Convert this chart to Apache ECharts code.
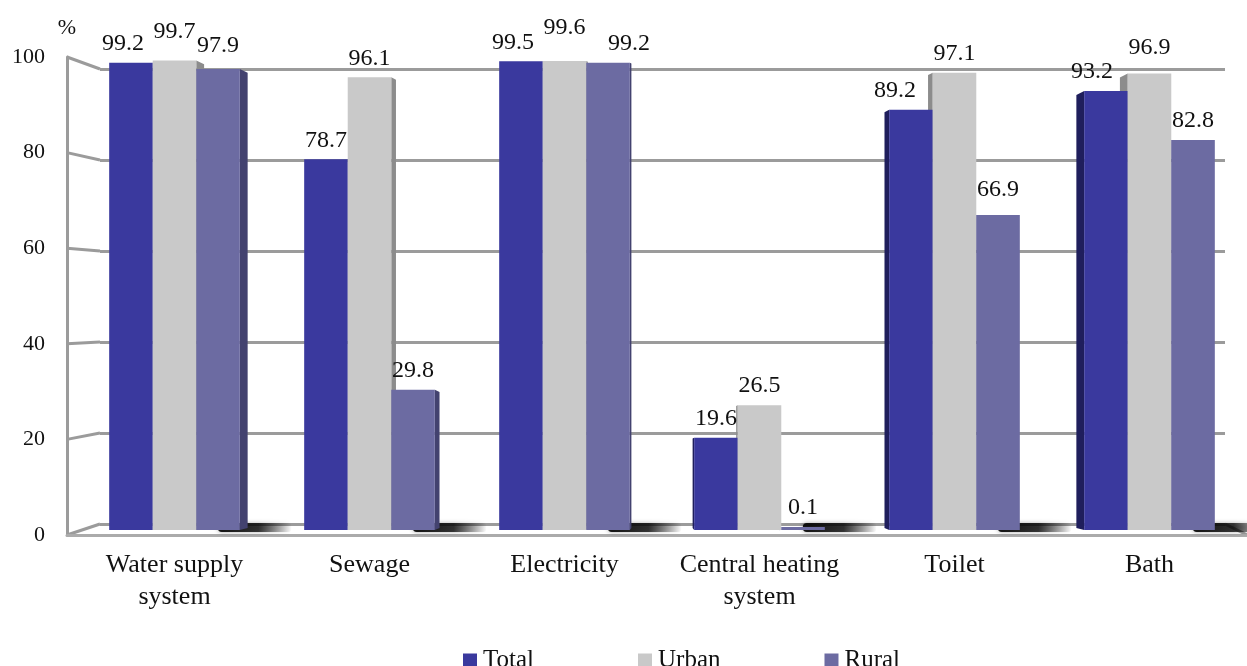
<!DOCTYPE html>
<html>
<head>
<meta charset="utf-8">
<script src="https://cdn.jsdelivr.net/npm/echarts@6/dist/echarts.min.js"></script>
<style>
  html, body { margin: 0; padding: 0; background: #ffffff; }
  #chart { width: 1247px; height: 666px; }
</style>
</head>
<body>
<div id="chart"></div>
<script>
// Housing amenities, share of dwellings (%)
const categories = ['Water supply\nsystem', 'Sewage', 'Electricity', 'Central heating\nsystem', 'Toilet', 'Bath'];
const totalValues = [99.2, 78.7, 99.5, 19.6, 89.2, 93.2];
const urbanValues = [99.7, 96.1, 99.6, 26.5, 97.1, 96.9];
const ruralValues = [97.9, 29.8, 99.2, 0.1, 66.9, 82.8];
const seriesNames = ['Total', 'Urban', 'Rural'];
const yTicks = [0, 20, 40, 60, 80, 100];
const unitLabel = '%';

const FONT = "'Liberation Serif', 'Times New Roman', serif";
const COLORS = ['#3a399e', '#c9c9c9', '#6c6ba2'];
const SIDE_COLORS = ['#1f1e5c', '#8c8c8c', '#43426f'];
const GRID_GRAY = '#9b9b9b';
const GROUP_SHARE = 0.67;   // part of each category band filled by its three bars

// Three stacked planes give the box a little depth:
// back wall (grid lines), bar plane, and front edge (y labels, floor edge).
const BACK = { left: 100, right: 22, top: 69, bottom: 142 };
const BARS = { left: 77, width: 1171, top: 59, bottom: 136 };
const WALL = { left: 67, right: 0, top: 57, bottom: 131 };

// Small per-label nudges where neighbouring value labels would collide
const labelNudge = {
  Total: { 0: [-8, 0], 2: [-8, 0], 4: [-16, 0], 5: [-14, 0] },
  Urban: { 0: [0, -10], 2: [0, -14], 5: [0, -7] },
  Rural: { 0: [0, -4], 2: [21, 0], 4: [0, -6] }
};

const yMin = yTicks[0];
const yMax = yTicks[yTicks.length - 1];
const yStep = yTicks[1] - yTicks[0];
const seriesValues = [totalValues, urbanValues, ruralValues];

function barData(name, values) {
  return values.map((v, i) => {
    const nudge = (labelNudge[name] || {})[i];
    return nudge ? { value: v, label: { offset: nudge } } : v;
  });
}

const valueLabel = {
  show: true,
  position: 'top',
  distance: 7,
  color: '#111',
  fontFamily: FONT,
  fontSize: 24
};

// side faces of the bars, leaning away from the middle of the plot
const sideFaceData = [];
seriesValues.forEach((vals, k) => vals.forEach((v, i) => sideFaceData.push([i, k, v])));

const chart = echarts.init(document.getElementById('chart'), null, { renderer: 'canvas' });
const plotMid = BACK.left + (chart.getWidth() - BACK.left - BACK.right) / 2;

const option = {
  backgroundColor: '#ffffff',
  animation: false,
  textStyle: { fontFamily: FONT },
  grid: [
    Object.assign({ containLabel: false }, BACK),
    Object.assign({ containLabel: false }, BARS),
    Object.assign({ containLabel: false }, WALL)
  ],
  xAxis: [
    { gridIndex: 0, type: 'category', data: categories, show: false },
    {
      gridIndex: 1, type: 'category', data: categories,
      axisLine: { show: false }, axisTick: { show: false },
      axisLabel: {
        margin: 19, color: '#111', fontFamily: FONT, fontSize: 26,
        lineHeight: 32, interval: 0
      }
    },
    {
      gridIndex: 2, type: 'category', data: categories,
      axisLine: { show: true, lineStyle: { color: '#ababab', width: 3 } },
      axisTick: { show: false }, axisLabel: { show: false }
    }
  ],
  yAxis: [
    {
      gridIndex: 0, type: 'value', min: yMin, max: yMax, interval: yStep,
      axisLine: { show: false }, axisTick: { show: false }, axisLabel: { show: false },
      splitLine: { show: true, lineStyle: { color: GRID_GRAY, width: 3 } }
    },
    {
      gridIndex: 1, type: 'value', min: yMin, max: yMax, interval: yStep,
      show: false, splitLine: { show: false }
    },
    {
      gridIndex: 2, type: 'value', min: yMin, max: yMax, interval: yStep,
      name: unitLabel, nameLocation: 'end', nameGap: 18,
      nameTextStyle: { color: '#111', fontFamily: FONT, fontSize: 22, align: 'center' },
      axisLine: { show: true, lineStyle: { color: GRID_GRAY, width: 3 } },
      axisTick: { show: false },
      splitLine: { show: false },
      axisLabel: { margin: 22, color: '#111', fontFamily: FONT, fontSize: 22 }
    }
  ],
  legend: {
    data: seriesNames,
    left: 463, top: 648, padding: 0,
    icon: 'rect', itemWidth: 14, itemHeight: 14, itemGap: 104,
    textStyle: { color: '#111', fontFamily: FONT, fontSize: 25, padding: [0, 0, 0, 1] }
  },
  series: [
    {
      // soft floor shadow cast to the right of each bar group
      type: 'custom',
      xAxisIndex: 1, yAxisIndex: 1,
      silent: true, z: 1,
      data: categories.map((c, i) => [i]),
      encode: { x: 0 },
      renderItem: function (params, api) {
        const base = api.coord([api.value(0), 0]);
        const band = api.size([1, 0])[0];
        const half = band * GROUP_SHARE / 2;
        const x0 = base[0] + half - 22;
        const x1 = base[0] + half + 52;
        return {
          type: 'rect',
          shape: { x: x0, y: base[1] - 7, width: x1 - x0, height: 9, r: 4 },
          style: {
            fill: new echarts.graphic.LinearGradient(0, 0, 1, 0, [
              { offset: 0, color: 'rgba(0,0,0,0.9)' },
              { offset: 0.55, color: 'rgba(0,0,0,0.75)' },
              { offset: 1, color: 'rgba(0,0,0,0)' }
            ]),
            shadowBlur: 4, shadowColor: 'rgba(0,0,0,0.4)'
          }
        };
      }
    },
    {
      // bar side faces
      type: 'custom',
      xAxisIndex: 1, yAxisIndex: 1,
      silent: true, z: 2,
      data: sideFaceData,
      encode: { x: 0, y: 2 },
      renderItem: function (params, api) {
        const i = api.value(0), k = api.value(1), v = api.value(2);
        const top = api.coord([i, v]);
        const base = api.coord([i, 0]);
        const band = api.size([1, 0])[0];
        const barW = band * GROUP_SHARE / 3;
        const x0 = top[0] - 1.5 * barW + k * barW;
        const x1 = x0 + barW;
        const d = -(top[0] - plotMid) / (chart.getWidth() / 2) * 10;
        if (Math.abs(d) < 1.5) return null;
        const edge = d > 0 ? x1 : x0;
        const tilt = Math.abs(d) * 0.5;
        return {
          type: 'polygon',
          shape: {
            points: [
              [edge, top[1]], [edge + d, top[1] + tilt],
              [edge + d, base[1] - 2], [edge, base[1]]
            ]
          },
          style: { fill: SIDE_COLORS[k] }
        };
      }
    },
    {
      name: seriesNames[0], type: 'bar', xAxisIndex: 1, yAxisIndex: 1, z: 3,
      barCategoryGap: '33%', barGap: '0%',
      itemStyle: { color: COLORS[0] },
      label: valueLabel,
      data: barData(seriesNames[0], totalValues)
    },
    {
      name: seriesNames[1], type: 'bar', xAxisIndex: 1, yAxisIndex: 1, z: 3,
      barCategoryGap: '33%', barGap: '0%',
      itemStyle: { color: COLORS[1] },
      label: valueLabel,
      data: barData(seriesNames[1], urbanValues)
    },
    {
      name: seriesNames[2], type: 'bar', xAxisIndex: 1, yAxisIndex: 1, z: 3,
      barCategoryGap: '33%', barGap: '0%', barMinHeight: 3,
      itemStyle: { color: COLORS[2] },
      label: valueLabel,
      data: barData(seriesNames[2], ruralValues)
    }
  ]
};

chart.setOption(option);

// Slanted connectors between the front edge and the back wall,
// positioned from the two value axes.
const chartWidth = chart.getWidth();
const connectors = yTicks.map(v => ({
  type: 'line', silent: true, z: 0,
  shape: {
    x1: WALL.left, y1: chart.convertToPixel({ yAxisIndex: 2 }, v),
    x2: BACK.left, y2: chart.convertToPixel({ yAxisIndex: 0 }, v)
  },
  style: { stroke: GRID_GRAY, lineWidth: 3 }
}));
connectors.push({
  type: 'line', silent: true, z: 0,
  shape: {
    x1: chartWidth - BACK.right, y1: chart.convertToPixel({ yAxisIndex: 0 }, yMin),
    x2: chartWidth, y2: chart.convertToPixel({ yAxisIndex: 2 }, yMin)
  },
  style: { stroke: GRID_GRAY, lineWidth: 3 }
});
chart.setOption({ graphic: connectors });
</script>
</body>
</html>
